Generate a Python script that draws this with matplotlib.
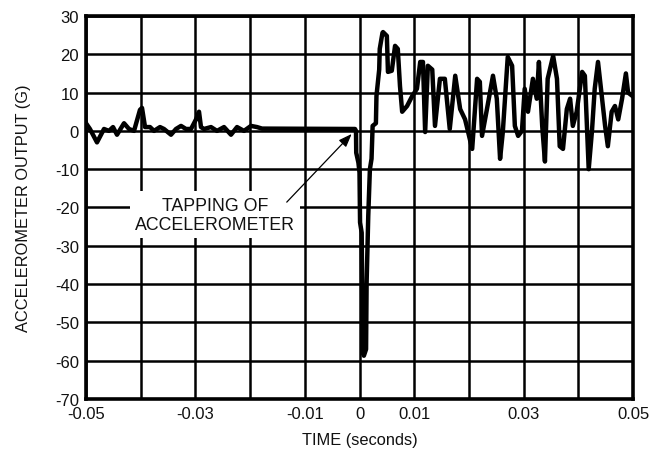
import matplotlib
matplotlib.use('Agg')
import matplotlib.pyplot as plt

plt.rcParams['font.family'] = ['Liberation Sans', 'DejaVu Sans']

# time (s) and accelerometer output (g)
time_s = [
    -0.0500, -0.04928, -0.04799, -0.04671, -0.04580, -0.04506, -0.04433, -0.04305,
    -0.04214, -0.04122, -0.04013, -0.03976, -0.03921, -0.03830, -0.03757, -0.03647,
    -0.03574, -0.03446, -0.03355, -0.03263, -0.03172, -0.03080, -0.02989, -0.02934,
    -0.02898, -0.02843, -0.02715, -0.02605, -0.02477, -0.02349, -0.02239, -0.02112,
    -0.01984, -0.01874, -0.01782, -0.00082, -0.00064,
    -0.00060, -0.00020, 0.00000, 0.00010, 0.00040, 0.00050, 0.00060, 0.00080,
    0.00120, 0.00130, 0.00160, 0.00190, 0.00220, 0.00240, 0.00300, 0.00310,
    0.00360, 0.00370, 0.00420,
    0.0043, 0.0050, 0.0052, 0.0059, 0.0065, 0.0070, 0.0074, 0.0078, 0.0087, 0.0096,
    0.0105, 0.0111, 0.0116, 0.0120, 0.0125, 0.0133, 0.0138, 0.0147, 0.0156, 0.0165,
    0.0175, 0.0184, 0.0193, 0.0206, 0.0215, 0.0220, 0.0224, 0.0233, 0.0244, 0.0251,
    0.0257, 0.0262, 0.0271, 0.0279, 0.0284, 0.0290, 0.0297, 0.0302, 0.0308, 0.0317,
    0.0324, 0.0328, 0.0334, 0.0339, 0.0344, 0.0354, 0.0361, 0.0366, 0.0372, 0.0379,
    0.0385, 0.0390, 0.0397, 0.0407, 0.0412, 0.0419, 0.0425, 0.0430, 0.0436, 0.0443,
    0.0449, 0.0454, 0.0461, 0.0467, 0.0473, 0.0480, 0.0487, 0.0491, 0.0500,
]
accel_g = [
    2.0, 0.5, -3.0, 0.5, 0.0, 1.0, -1.0, 2.0,
    0.5, 0.0, 5.5, 6.0, 1.0, 1.0, 0.0, 1.0,
    0.5, -1.0, 0.5, 1.3, 0.5, 0.5, 3.0, 5.0,
    1.0, 0.5, 1.0, 0.0, 1.0, -1.0, 1.0, 0.0,
    1.3, 1.0, 0.6, 0.5, 0.0,
    -5.7, -8.3, -10.9, -23.9, -26.6, -44.0, -57.9, -58.7,
    -57.0, -39.6, -22.2, -10.0, -7.3, 1.3, 2.0, 9.1,
    16.0, 21.4, 25.6,
    25.8, 24.8, 15.4, 15.7, 22.2, 21.4, 11.7, 5.0, 6.5, 9.0,
    11.0, 18.0, 18.0, -0.3, 17.0, 16.0, 1.3, 13.6, 13.6, 0.5,
    14.4, 5.7, 3.0, -4.7, 13.6, 12.8, -1.3, 5.7, 14.4, 8.4,
    -7.3, -0.3, 19.3, 17.0, 1.3, -1.3, 0.0, 11.0, 5.0, 13.6,
    8.4, 18.0, 1.3, -8.0, 13.6, 19.6, 13.6, -4.0, -4.7, 5.7,
    8.4, 1.3, 5.0, 15.4, 14.4, -10.0, 0.0, 11.0, 18.0, 9.0,
    1.3, -4.0, 5.0, 6.5, 3.0, 8.4, 15.0, 10.0, 9.0,
]

x_ticks = [-0.05, -0.04, -0.03, -0.02, -0.01, 0, 0.01, 0.02, 0.03, 0.04, 0.05]
x_labels = ['-0.05', '', '-0.03', '', '-0.01', '0', '0.01', '', '0.03', '', '0.05']
y_ticks = [30, 20, 10, 0, -10, -20, -30, -40, -50, -60, -70]

note_text = 'TAPPING OF\nACCELEROMETER'
note_xy = (-0.0264, -21.9)
arrow_tail = (-0.0133, -18.6)
arrow_tip = (-0.00143, -0.8)

fig = plt.figure(figsize=(6.6, 4.64), dpi=100)
ax = fig.add_axes([0.1303, 0.1379, 0.8288, 0.8255])

ax.plot(time_s, accel_g, color='black', linewidth=3.2, solid_joinstyle='round', zorder=3)

ax.set_xlim(-0.05, 0.05)
ax.set_ylim(-70, 30)
ax.set_xticks(x_ticks)
ax.set_xticklabels(x_labels)
ax.set_yticks(y_ticks)
ax.set_yticklabels([str(v) for v in y_ticks])
ax.tick_params(length=0, labelsize=12, pad=5, colors='#111111')
ax.grid(True, color='black', linewidth=1.8)
ax.set_axisbelow(True)
for sp in ax.spines.values():
    sp.set_linewidth(2.6)

ax.set_xlabel('TIME (seconds)', fontsize=11.8, labelpad=8, color='#111111')
ax.set_ylabel('ACCELEROMETER OUTPUT (G)', fontsize=11.8, labelpad=17, color='#111111')

ax.text(note_xy[0], note_xy[1], note_text, ha='center', va='center', fontsize=12.8,
        color='#111111', linespacing=1.15, zorder=4,
        bbox=dict(boxstyle='square,pad=0.3', fc='white', ec='none'))
ax.annotate('', xy=arrow_tip, xytext=arrow_tail,
            arrowprops=dict(arrowstyle='-|>,head_length=0.8,head_width=0.3', color='black',
                            lw=0.9, shrinkA=0, shrinkB=0),
            zorder=5)

fig.savefig('out.png', dpi=100)
